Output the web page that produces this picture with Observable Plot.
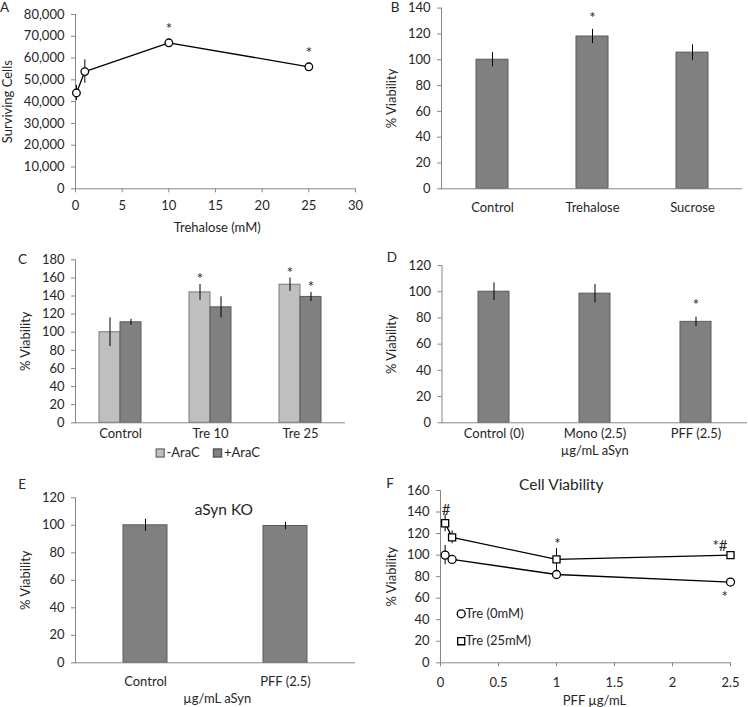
<!DOCTYPE html>
<html>
<head>
<meta charset="utf-8">
<script src="https://cdn.jsdelivr.net/npm/d3@7"></script>
<script src="https://cdn.jsdelivr.net/npm/@observablehq/plot@0.6"></script>
<style>
  html, body { margin: 0; padding: 0; background: #fff; }
  #root { position: relative; width: 748px; height: 707px; overflow: hidden; background: #fff; }
</style>
</head>
<body>
<div id="root"></div>
<script>
// ---------- Panel A: surviving cells vs trehalose ----------
const concA = [0.1, 1, 10, 25];
const cellsA = [44000, 53800, 67000, 56000];
const cellsErrA = [3500, 5400, 800, 800];
const sigA = ["", "", "*", "*"];
const xTicksA = [0, 5, 10, 15, 20, 25, 30];
const yTicksA = [0, 10000, 20000, 30000, 40000, 50000, 60000, 70000, 80000];

// ---------- Panel B ----------
const catsB = ["Control", "Trehalose", "Sucrose"];
const valsB = [100, 118, 105.5];
const errB = [5.5, 5.5, 6];
const sigB = ["", "*", ""];
const yTicksB = [0, 20, 40, 60, 80, 100, 120, 140];

// ---------- Panel C ----------
const catsC = ["Control", "Tre 10", "Tre 25"];
const groupsC = ["-AraC", "+AraC"];
const minusC = [100, 144, 152.5];
const minusErrC = [15.8, 8.7, 7.4];
const minusSigC = ["", "*", "*"];
const plusC = [111, 127.5, 139];
const plusErrC = [3.3, 11.6, 5];
const plusSigC = ["", "", "*"];
const yTicksC = [0, 20, 40, 60, 80, 100, 120, 140, 160, 180];

// ---------- Panel D ----------
const catsD = ["Control (0)", "Mono (2.5)", "PFF (2.5)"];
const valsD = [100, 98.5, 77];
const errD = [6.7, 7, 3.6];
const sigD = ["", "", "*"];
const yTicksD = [0, 20, 40, 60, 80, 100, 120];

// ---------- Panel E ----------
const catsE = ["Control", "PFF (2.5)"];
const valsE = [100, 99.5];
const errE = [4.4, 2.6];
const yTicksE = [0, 20, 40, 60, 80, 100, 120];

// ---------- Panel F ----------
const seriesF = ["Tre (0mM)", "Tre (25mM)"];
const concF = [0.04, 0.1, 1, 2.5];
const tre0F = [100, 96, 82, 75];
const tre0ErrF = [9, 2, 2, 2];
const tre0SigF = ["", "", "", "*"];
const tre25F = [129.6, 116.5, 96, 100];
const tre25ErrF = [8, 6, 10, 2];
const tre25SigF = ["#", "", "*", "*#"];
const xTicksF = [0, 0.5, 1, 1.5, 2, 2.5];
const yTicksF = [0, 20, 40, 60, 80, 100, 120, 140, 160];

// ---------- shared look ----------
const gray = "#868686";
const ink = "#262626";
const darkBar = "#808080";
const lightBar = "#bfbfbf";
const baseStyle = {fontFamily: "Lato, 'Open Sans', sans-serif", fontSize: "13px", color: ink, background: "transparent", overflow: "visible"};
const root = document.getElementById("root");
function place(svg, left, top) {
  svg.style.position = "absolute";
  svg.style.left = left + "px";
  svg.style.top = top + "px";
  root.appendChild(svg);
}
const T = {textAnchor: "middle", lineAnchor: "middle"};
const S = {...T, fontSize: 15, fill: ink};
function letter(s, dx, dy) { return Plot.text([s], {...T, frameAnchor: "top-left", dx, dy, fontSize: 13.5}); }
function ytitle(s, dx) { return Plot.text([s], {...T, frameAnchor: "left", rotate: -90, dx}); }

// ---------- A ----------
const dataA = concA.map((c, i) => ({conc: c, cells: cellsA[i], err: cellsErrA[i], sig: sigA[i]}));
place(Plot.plot({
  width: 374, height: 235, marginLeft: 75, marginRight: 19, marginTop: 14, marginBottom: 46.7,
  style: baseStyle,
  x: {domain: [0, 30], axis: null},
  y: {domain: [0, 80000], axis: null},
  marks: [
    Plot.ruleY([0], {stroke: gray}),
    Plot.ruleX([0], {stroke: gray}),
    Plot.axisY({ticks: yTicksA, tickFormat: d3.format(","), tickSize: 4, tickPadding: 7, stroke: gray, label: null}),
    Plot.axisX({ticks: xTicksA, tickSize: 4, tickPadding: 8.2, stroke: gray, label: null}),
    Plot.ruleX(dataA, {x: "conc", y1: d => d.cells - d.err, y2: d => d.cells + d.err, stroke: "#000"}),
    Plot.line(dataA, {x: "conc", y: "cells", stroke: "#000", strokeWidth: 1.3}),
    Plot.dot(dataA, {x: "conc", y: "cells", r: 3.8, fill: "white", stroke: "#000", strokeWidth: 1.3}),
    Plot.text(dataA, {...S, x: "conc", y: d => d.cells + d.err, text: "sig", dy: -12}),
    ytitle("Surviving Cells", -67.5),
    Plot.text(["Trehalose (mM)"], {...T, frameAnchor: "bottom", dx: 1.7, dy: 38.7}),
    letter("A", -71, -7)
  ]
}), 0, 0);

// ---------- B ----------
const dataB = catsB.map((c, i) => ({cat: c, val: valsB[i], err: errB[i], sig: sigB[i]}));
place(Plot.plot({
  width: 374, height: 220, marginLeft: 67, marginRight: 6, marginTop: 7.6, marginBottom: 31.7,
  style: baseStyle,
  x: {domain: catsB, padding: 0, axis: null},
  y: {domain: [0, 140], axis: null},
  marks: [
    Plot.barY(dataB, {x: "cat", y: "val", fill: darkBar, stroke: "#5a5a5a", insetLeft: 34, insetRight: 34}),
    Plot.ruleX(dataB, {x: "cat", y1: d => d.val - d.err, y2: d => d.val + d.err, stroke: "#000"}),
    Plot.text(dataB, {...S, x: "cat", y: d => d.val + d.err, text: "sig", dy: -11}),
    Plot.ruleY([0], {stroke: gray}),
    Plot.frame({anchor: "left", stroke: gray}),
    Plot.axisY({ticks: yTicksB, tickSize: 4, tickPadding: 7, stroke: gray, label: null}),
    Plot.axisX({tickSize: 0, tickPadding: 14.2, label: null}),
    ytitle("% Viability", -49.5),
    letter("B", -46.3, -0.6)
  ]
}), 374, 0);

// ---------- C ----------
const dataC = catsC.flatMap((c, i) => [
  {cat: c, group: groupsC[0], val: minusC[i], err: minusErrC[i], sig: minusSigC[i]},
  {cat: c, group: groupsC[1], val: plusC[i], err: plusErrC[i], sig: plusSigC[i]}
]);
const isMinus = d => d.group === groupsC[0];
place(Plot.plot({
  width: 374, height: 222, marginLeft: 75, marginRight: 29, marginTop: 19.3, marginBottom: 39.7,
  style: baseStyle,
  x: {domain: catsC, padding: 0, axis: null},
  y: {domain: [0, 180], axis: null},
  color: {domain: groupsC, range: [lightBar, darkBar]},
  marks: [
    Plot.barY(dataC, {filter: isMinus, x: "cat", y: "val", fill: "group", stroke: "#7a7a7a", insetLeft: 24, insetRight: 45}),
    Plot.barY(dataC, {filter: d => !isMinus(d), x: "cat", y: "val", fill: "group", stroke: "#5a5a5a", insetLeft: 45, insetRight: 24}),
    Plot.ruleX(dataC, {filter: isMinus, x: "cat", y1: d => d.val - d.err, y2: d => d.val + d.err, stroke: "#000", dx: -10.5}),
    Plot.ruleX(dataC, {filter: d => !isMinus(d), x: "cat", y1: d => d.val - d.err, y2: d => d.val + d.err, stroke: "#000", dx: 10.5}),
    Plot.text(dataC, {...S, filter: isMinus, x: "cat", y: d => d.val + d.err, text: "sig", dx: -10.5, dy: -5}),
    Plot.text(dataC, {...S, filter: d => !isMinus(d), x: "cat", y: d => d.val + d.err, text: "sig", dx: 10.5, dy: -5}),
    Plot.ruleY([0], {stroke: gray}),
    Plot.frame({anchor: "left", stroke: gray}),
    Plot.axisY({ticks: yTicksC, tickSize: 4, tickPadding: 7, stroke: gray, label: null}),
    Plot.axisX({tickSize: 0, tickPadding: 6.2, label: null}),
    ytitle("% Viability", -49.5),
    letter("C", -53, 0),
    // legend
    Plot.dot([groupsC[0]], {frameAnchor: "bottom", symbol: "square", r: 4.5, fill: d => d, stroke: "#7a7a7a", dx: -50.3, dy: 30.2}),
    Plot.text([groupsC[0]], {frameAnchor: "bottom", textAnchor: "start", lineAnchor: "middle", dx: -44, dy: 30.2}),
    Plot.dot([groupsC[1]], {frameAnchor: "bottom", symbol: "square", r: 4.5, fill: d => d, stroke: "#5a5a5a", dx: 7, dy: 30.2}),
    Plot.text([groupsC[1]], {frameAnchor: "bottom", textAnchor: "start", lineAnchor: "middle", dx: 13.5, dy: 30.2})
  ]
}), 0, 240);

// ---------- D ----------
const dataD = catsD.map((c, i) => ({cat: c, val: valsD[i], err: errD[i], sig: sigD[i]}));
place(Plot.plot({
  width: 374, height: 220, marginLeft: 67.5, marginRight: 1, marginTop: 25, marginBottom: 37.7,
  style: baseStyle,
  x: {domain: catsD, padding: 0, axis: null},
  y: {domain: [0, 120], axis: null},
  marks: [
    Plot.barY(dataD, {x: "cat", y: "val", fill: darkBar, stroke: "#5a5a5a", insetLeft: 35, insetRight: 35}),
    Plot.ruleX(dataD, {x: "cat", y1: d => d.val - d.err, y2: d => d.val + d.err, stroke: "#000"}),
    Plot.text(dataD, {...S, x: "cat", y: d => d.val + d.err, text: "sig", dy: -11.5}),
    Plot.ruleY([0], {stroke: gray}),
    Plot.frame({anchor: "left", stroke: gray}),
    Plot.axisY({ticks: yTicksD, tickSize: 4, tickPadding: 7, stroke: gray, label: null}),
    Plot.axisX({tickSize: 0, tickPadding: 6.2, label: null}),
    ytitle("% Viability", -50),
    Plot.text(["µg/mL aSyn"], {...T, frameAnchor: "bottom", dy: 27.7}),
    letter("D", -50, -8)
  ]
}), 374, 240);

// ---------- E ----------
const dataE = catsE.map((c, i) => ({cat: c, val: valsE[i], err: errE[i]}));
place(Plot.plot({
  width: 374, height: 237, marginLeft: 75, marginRight: 19, marginTop: 27.3, marginBottom: 44.7,
  style: baseStyle,
  x: {domain: catsE, padding: 0, axis: null},
  y: {domain: [0, 120], axis: null},
  marks: [
    Plot.barY(dataE, {x: "cat", y: "val", fill: darkBar, stroke: "#5a5a5a", insetLeft: 48, insetRight: 48}),
    Plot.ruleX(dataE, {x: "cat", y1: d => d.val - d.err, y2: d => d.val + d.err, stroke: "#000"}),
    Plot.ruleY([0], {stroke: gray}),
    Plot.frame({anchor: "left", stroke: gray}),
    Plot.axisY({ticks: yTicksE, tickSize: 4, tickPadding: 7, stroke: gray, label: null}),
    Plot.axisX({tickSize: 0, tickPadding: 14.2, label: null}),
    ytitle("% Viability", -49.5),
    Plot.text(["aSyn KO"], {...T, frameAnchor: "top", dx: 8.3, dy: 12.7, fontSize: 15.5}),
    Plot.text(["µg/mL aSyn"], {...T, frameAnchor: "bottom", dx: 1.7, dy: 36}),
    letter("E", -53.3, -13.3)
  ]
}), 0, 470);

// ---------- F ----------
const dataF = concF.map((c, i) => ({conc: c, t0: tre0F[i], e0: tre0ErrF[i], s0: tre0SigF[i], t25: tre25F[i], e25: tre25ErrF[i], s25: tre25SigF[i]}));
place(Plot.plot({
  width: 374, height: 237, marginLeft: 66, marginRight: 18, marginTop: 20, marginBottom: 44.7,
  style: baseStyle,
  x: {domain: [0, 2.5], axis: null},
  y: {domain: [0, 160], axis: null},
  marks: [
    Plot.ruleY([0], {stroke: gray}),
    Plot.ruleX([0], {stroke: gray}),
    Plot.axisY({ticks: yTicksF, tickSize: 4, tickPadding: 7, stroke: gray, label: null}),
    Plot.axisX({ticks: xTicksF, tickFormat: d => String(d), tickSize: 4, tickPadding: 10.6, stroke: gray, label: null}),
    Plot.ruleX(dataF, {x: "conc", y1: d => d.t0 - d.e0, y2: d => d.t0 + d.e0, stroke: "#000"}),
    Plot.ruleX(dataF, {x: "conc", y1: d => d.t25 - d.e25, y2: d => d.t25 + d.e25, stroke: "#000"}),
    Plot.line(dataF, {x: "conc", y: "t0", stroke: "#000", strokeWidth: 1.3}),
    Plot.line(dataF, {x: "conc", y: "t25", stroke: "#000", strokeWidth: 1.3}),
    Plot.dot(dataF, {x: "conc", y: "t0", r: 4, fill: "white", stroke: "#000", strokeWidth: 1.3}),
    Plot.dot(dataF, {x: "conc", y: "t25", symbol: "square", r: 4, fill: "white", stroke: "#000", strokeWidth: 1.3}),
    Plot.text(dataF, {...S, filter: d => d.s25.length === 1, x: "conc", y: d => d.t25 + d.e25, text: "s25", dx: 1, dy: -4}),
    Plot.text(dataF, {fontSize: 15, fill: ink, filter: d => d.s25.length > 1, x: "conc", y: d => d.t25 + d.e25, text: "s25", textAnchor: "end", lineAnchor: "middle", dx: -3, dy: -7}),
    Plot.text(dataF, {...S, x: "conc", y: "t0", text: "s0", dx: -5.7, dy: 15.5}),
    ytitle("% Viability", -48.5),
    Plot.text(["Cell Viability"], {...T, frameAnchor: "top", dx: -24.3, dy: -5, fontSize: 15.5}),
    Plot.text(["PFF µg/mL"], {...T, frameAnchor: "bottom", dx: 9, dy: 37.7}),
    letter("F", -50.5, -7),
    // legend
    Plot.dot([seriesF[0]], {frameAnchor: "bottom-left", r: 4, fill: "white", stroke: "#000", strokeWidth: 1.3, dx: 20.7, dy: -49}),
    Plot.text([seriesF[0]], {frameAnchor: "bottom-left", textAnchor: "start", lineAnchor: "middle", dx: 25, dy: -49}),
    Plot.dot([seriesF[1]], {frameAnchor: "bottom-left", symbol: "square", r: 4, fill: "white", stroke: "#000", strokeWidth: 1.3, dx: 20.7, dy: -21.6}),
    Plot.text([seriesF[1]], {frameAnchor: "bottom-left", textAnchor: "start", lineAnchor: "middle", dx: 25, dy: -21.6})
  ]
}), 374, 470);
</script>
</body>
</html>
